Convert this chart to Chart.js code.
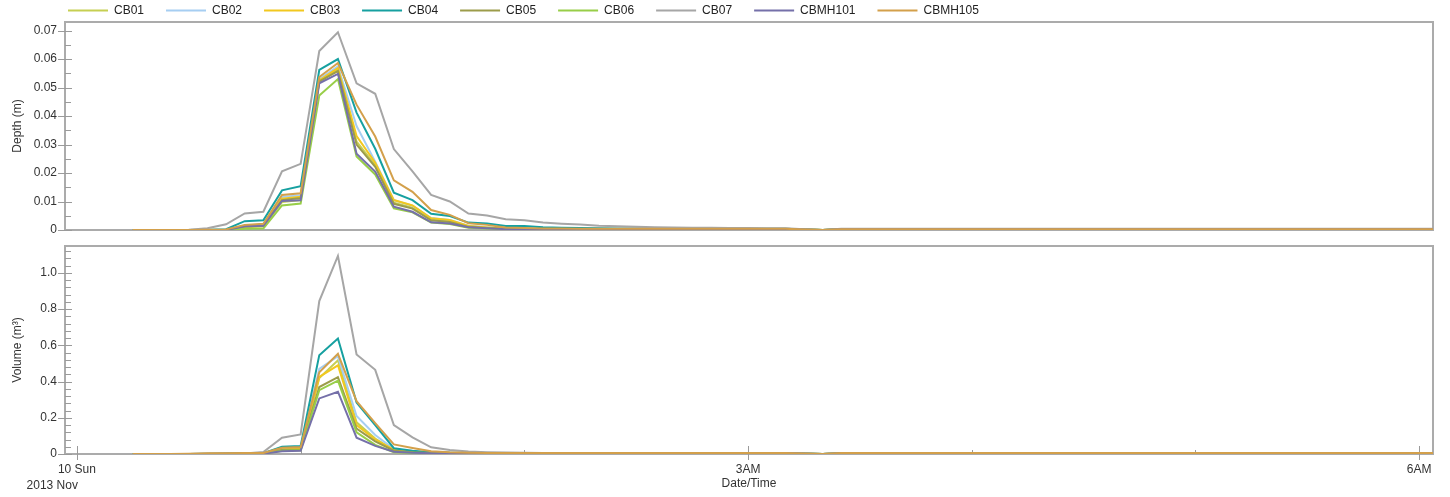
<!DOCTYPE html>
<html>
<head>
<meta charset="utf-8">
<script src="https://cdn.jsdelivr.net/npm/chart.js@4.4.1/dist/chart.umd.min.js"></script>
<style>
html,body{margin:0;padding:0;background:#fff;width:1450px;height:497px;overflow:hidden;}
#topChart{position:absolute;left:0;top:0;}
#botChart{position:absolute;left:0;top:238px;}
</style>
</head>
<body>
<canvas id="topChart" width="1450" height="238"></canvas>
<canvas id="botChart" width="1450" height="259"></canvas>
<script>
// ---- categories: minutes after 2013-11-10 00:00 ----
const minutes = [
 15,20,25,30,35,40,45,50,55,60,
 65,70,75,80,85,90,95,100,105,110,
 115,120,125,130,135,140,145,150,155,160,
 165,170,175,180,185,190,195,200,205,210,
 215,220,225,230,235,240,245,250,255,260,
 265,270,275,280,285,290,295,300,305,310,
 315,320,325,330,335,340,345,350,355,360,
 365];

const seriesNames = ['CB01','CB02','CB03','CB04','CB05','CB06','CB07','CBMH101','CBMH105'];
const seriesColors = ['#C6CF52','#A6CEF2','#F2C81F','#16A0A0','#9C9C4A','#98CE48','#A6A6A6','#7570A9','#D3A04B'];

// ---- depth (m) ----
const depthCB01 = [
 0,0,0,0,0,0,0.0010,0.0012,0.0098,0.0105,
 0.0520,0.0562,0.0310,0.0228,0.0096,0.0078,0.0036,0.0030,0.0012,0.0008,
 0.0004,0.0003,0.0003,0.0003,0.0003,0.0003,0.0003,0.0003,0.0003,0.0003,
 0.0003,0.0003,0.0003,0.0003,0.0003,0.0003,0.0002,0,0.0002,0.0002,
 0.0002,0.0002,0.0002,0.0002,0.0002,0.0002,0.0002,0.0002,0.0002,0.0002,
 0.0002,0.0002,0.0002,0.0002,0.0002,0.0002,0.0002,0.0002,0.0002,0.0002,
 0.0002,0.0002,0.0002,0.0002,0.0002,0.0002,0.0002,0.0002,0.0002,0.0002,
 0.0002];
const depthCB02 = [
 0,0,0,0,0,0.0001,0.0016,0.0019,0.0116,0.0122,
 0.0530,0.0574,0.0365,0.0240,0.0105,0.0085,0.0042,0.0035,0.0015,0.0010,
 0.0005,0.0004,0.0003,0.0003,0.0003,0.0003,0.0003,0.0003,0.0003,0.0003,
 0.0003,0.0003,0.0003,0.0003,0.0003,0.0003,0.0002,0,0.0003,0.0003,
 0.0003,0.0003,0.0003,0.0003,0.0003,0.0003,0.0003,0.0003,0.0003,0.0003,
 0.0003,0.0003,0.0003,0.0003,0.0003,0.0003,0.0003,0.0003,0.0003,0.0003,
 0.0003,0.0003,0.0003,0.0003,0.0003,0.0003,0.0003,0.0003,0.0003,0.0003,
 0.0003];
const depthCB03 = [
 0,0,0,0,0,0.0001,0.0014,0.0017,0.0110,0.0117,
 0.0525,0.0568,0.0330,0.0236,0.0105,0.0086,0.0041,0.0035,0.0014,0.0009,
 0.0005,0.0004,0.0003,0.0003,0.0003,0.0003,0.0003,0.0003,0.0003,0.0003,
 0.0003,0.0003,0.0003,0.0003,0.0003,0.0003,0.0002,0,0.0003,0.0003,
 0.0003,0.0003,0.0003,0.0003,0.0003,0.0003,0.0003,0.0003,0.0003,0.0003,
 0.0003,0.0003,0.0003,0.0003,0.0003,0.0003,0.0003,0.0003,0.0003,0.0003,
 0.0003,0.0003,0.0003,0.0003,0.0003,0.0003,0.0003,0.0003,0.0003,0.0003,
 0.0003];
const depthCB04 = [
 0,0,0,0,0.0001,0.0003,0.0031,0.0034,0.0139,0.0154,
 0.0562,0.0600,0.0412,0.0285,0.0131,0.0105,0.0057,0.0049,0.0026,0.0023,
 0.0014,0.0014,0.0010,0.0008,0.0007,0.0006,0.0005,0.0005,0.0005,0.0004,
 0.0004,0.0004,0.0004,0.0004,0.0004,0.0004,0.0002,0,0.0003,0.0003,
 0.0003,0.0003,0.0003,0.0003,0.0003,0.0003,0.0003,0.0003,0.0003,0.0003,
 0.0003,0.0003,0.0003,0.0003,0.0003,0.0003,0.0003,0.0003,0.0003,0.0003,
 0.0003,0.0003,0.0003,0.0003,0.0003,0.0003,0.0003,0.0003,0.0003,0.0003,
 0.0003];
const depthCB05 = [
 0,0,0,0,0,0,0.0012,0.0015,0.0105,0.0112,
 0.0522,0.0558,0.0300,0.0222,0.0092,0.0075,0.0034,0.0028,0.0011,0.0007,
 0.0004,0.0003,0.0003,0.0003,0.0003,0.0003,0.0003,0.0003,0.0003,0.0003,
 0.0003,0.0003,0.0003,0.0003,0.0003,0.0003,0.0002,0,0.0002,0.0002,
 0.0002,0.0002,0.0002,0.0002,0.0002,0.0002,0.0002,0.0002,0.0002,0.0002,
 0.0002,0.0002,0.0002,0.0002,0.0002,0.0002,0.0002,0.0002,0.0002,0.0002,
 0.0002,0.0002,0.0002,0.0002,0.0002,0.0002,0.0002,0.0002,0.0002,0.0002,
 0.0002];
const depthCB06 = [
 0,0,0,0,0,0,0.0004,0.0005,0.0086,0.0093,
 0.0472,0.0530,0.0258,0.0195,0.0076,0.0062,0.0026,0.0021,0.0008,0.0005,
 0.0003,0.0002,0.0002,0.0002,0.0002,0.0002,0.0002,0.0002,0.0002,0.0002,
 0.0002,0.0002,0.0002,0.0002,0.0002,0.0002,0.0001,0,0.0002,0.0002,
 0.0002,0.0002,0.0002,0.0002,0.0002,0.0002,0.0002,0.0002,0.0002,0.0002,
 0.0002,0.0002,0.0002,0.0002,0.0002,0.0002,0.0002,0.0002,0.0002,0.0002,
 0.0002,0.0002,0.0002,0.0002,0.0002,0.0002,0.0002,0.0002,0.0002,0.0002,
 0.0002];
const depthCB07 = [
 0,0,0,0.0001,0.0006,0.0020,0.0058,0.0064,0.0206,0.0232,
 0.0628,0.0694,0.0515,0.0478,0.0284,0.0206,0.0123,0.0100,0.0058,0.0051,
 0.0038,0.0034,0.0026,0.0022,0.0019,0.0015,0.0013,0.0011,0.0010,0.0009,
 0.0008,0.0008,0.0007,0.0007,0.0006,0.0006,0.0003,0,0.0004,0.0004,
 0.0004,0.0004,0.0004,0.0004,0.0004,0.0004,0.0004,0.0004,0.0004,0.0004,
 0.0004,0.0004,0.0004,0.0004,0.0004,0.0004,0.0004,0.0004,0.0004,0.0004,
 0.0004,0.0004,0.0004,0.0004,0.0004,0.0004,0.0004,0.0004,0.0004,0.0004,
 0.0004];
const depthCBMH101 = [
 0,0,0,0,0,0,0.0013,0.0015,0.0102,0.0104,
 0.0515,0.0548,0.0268,0.0205,0.0082,0.0064,0.0027,0.0023,0.0010,0.0006,
 0.0003,0.0003,0.0002,0.0002,0.0002,0.0002,0.0002,0.0002,0.0002,0.0002,
 0.0002,0.0002,0.0002,0.0002,0.0002,0.0002,0.0001,0,0.0002,0.0002,
 0.0002,0.0002,0.0002,0.0002,0.0002,0.0002,0.0002,0.0002,0.0002,0.0002,
 0.0002,0.0002,0.0002,0.0002,0.0002,0.0002,0.0002,0.0002,0.0002,0.0002,
 0.0002,0.0002,0.0002,0.0002,0.0002,0.0002,0.0002,0.0002,0.0002,0.0002,
 0.0002];
const depthCBMH105 = [
 0,0,0,0,0.0001,0.0002,0.0018,0.0022,0.0123,0.0129,
 0.0537,0.0586,0.0440,0.0328,0.0174,0.0134,0.0070,0.0053,0.0024,0.0018,
 0.0009,0.0007,0.0005,0.0005,0.0004,0.0004,0.0004,0.0004,0.0004,0.0004,
 0.0004,0.0004,0.0004,0.0004,0.0004,0.0004,0.0002,0,0.0003,0.0003,
 0.0003,0.0003,0.0003,0.0003,0.0003,0.0003,0.0003,0.0003,0.0003,0.0003,
 0.0003,0.0003,0.0003,0.0003,0.0003,0.0003,0.0003,0.0003,0.0003,0.0003,
 0.0003,0.0003,0.0003,0.0003,0.0003,0.0003,0.0003,0.0003,0.0003,0.0003,
 0.0003];

// ---- volume (m3) ----
const volumeCB01 = [
 0,0,0,0,0,0.001,0.002,0.003,0.024,0.027,
 0.420,0.518,0.175,0.085,0.022,0.011,0.006,0.005,0.004,0.004,
 0.004,0.004,0.004,0.004,0.004,0.004,0.004,0.004,0.004,0.004,
 0.004,0.004,0.004,0.004,0.004,0.004,0.002,0,0.003,0.003,
 0.003,0.003,0.003,0.003,0.003,0.003,0.003,0.003,0.003,0.003,
 0.003,0.003,0.003,0.003,0.003,0.003,0.003,0.003,0.003,0.003,
 0.003,0.003,0.003,0.003,0.003,0.003,0.003,0.003,0.003,0.003,
 0.003];
const volumeCB02 = [
 0,0,0,0,0.001,0.002,0.003,0.004,0.030,0.033,
 0.470,0.540,0.210,0.105,0.028,0.013,0.007,0.005,0.005,0.004,
 0.004,0.004,0.004,0.004,0.004,0.004,0.004,0.004,0.004,0.004,
 0.004,0.004,0.004,0.004,0.004,0.004,0.002,0,0.003,0.003,
 0.003,0.003,0.003,0.003,0.003,0.003,0.003,0.003,0.003,0.003,
 0.003,0.003,0.003,0.003,0.003,0.003,0.003,0.003,0.003,0.003,
 0.003,0.003,0.003,0.003,0.003,0.003,0.003,0.003,0.003,0.003,
 0.003];
const volumeCB03 = [
 0,0,0,0,0,0.001,0.002,0.003,0.026,0.029,
 0.426,0.490,0.160,0.080,0.024,0.011,0.006,0.005,0.004,0.004,
 0.004,0.004,0.004,0.004,0.004,0.004,0.004,0.004,0.004,0.004,
 0.004,0.004,0.004,0.004,0.004,0.004,0.002,0,0.003,0.003,
 0.003,0.003,0.003,0.003,0.003,0.003,0.003,0.003,0.003,0.003,
 0.003,0.003,0.003,0.003,0.003,0.003,0.003,0.003,0.003,0.003,
 0.003,0.003,0.003,0.003,0.003,0.003,0.003,0.003,0.003,0.003,
 0.003];
const volumeCB04 = [
 0,0,0,0,0.001,0.002,0.003,0.005,0.040,0.044,
 0.546,0.638,0.285,0.160,0.032,0.018,0.010,0.007,0.006,0.005,
 0.005,0.005,0.005,0.005,0.005,0.005,0.005,0.005,0.005,0.005,
 0.005,0.005,0.005,0.005,0.005,0.005,0.003,0,0.004,0.004,
 0.004,0.004,0.004,0.004,0.004,0.004,0.004,0.004,0.004,0.004,
 0.004,0.004,0.004,0.004,0.004,0.004,0.004,0.004,0.004,0.004,
 0.004,0.004,0.004,0.004,0.004,0.004,0.004,0.004,0.004,0.004,
 0.004];
const volumeCB05 = [
 0,0,0,0,0,0.001,0.002,0.003,0.022,0.025,
 0.370,0.425,0.140,0.070,0.018,0.009,0.005,0.004,0.004,0.003,
 0.003,0.003,0.003,0.003,0.003,0.003,0.003,0.003,0.003,0.003,
 0.003,0.003,0.003,0.003,0.003,0.003,0.002,0,0.003,0.003,
 0.003,0.003,0.003,0.003,0.003,0.003,0.003,0.003,0.003,0.003,
 0.003,0.003,0.003,0.003,0.003,0.003,0.003,0.003,0.003,0.003,
 0.003,0.003,0.003,0.003,0.003,0.003,0.003,0.003,0.003,0.003,
 0.003];
const volumeCB06 = [
 0,0,0,0,0,0,0.001,0.002,0.018,0.021,
 0.353,0.405,0.120,0.050,0.010,0.006,0.004,0.003,0.003,0.003,
 0.003,0.003,0.003,0.003,0.003,0.003,0.003,0.003,0.003,0.003,
 0.003,0.003,0.003,0.003,0.003,0.003,0.002,0,0.003,0.003,
 0.003,0.003,0.003,0.003,0.003,0.003,0.003,0.003,0.003,0.003,
 0.003,0.003,0.003,0.003,0.003,0.003,0.003,0.003,0.003,0.003,
 0.003,0.003,0.003,0.003,0.003,0.003,0.003,0.003,0.003,0.003,
 0.003];
const volumeCB07 = [
 0,0,0,0,0.001,0.002,0.003,0.011,0.090,0.108,
 0.845,1.094,0.550,0.465,0.160,0.092,0.037,0.022,0.014,0.010,
 0.008,0.007,0.006,0.006,0.006,0.005,0.005,0.005,0.005,0.005,
 0.005,0.005,0.005,0.005,0.005,0.005,0.003,0,0.004,0.004,
 0.004,0.004,0.004,0.004,0.004,0.004,0.004,0.004,0.004,0.004,
 0.004,0.004,0.004,0.004,0.004,0.004,0.004,0.004,0.004,0.004,
 0.004,0.004,0.004,0.004,0.004,0.004,0.004,0.004,0.004,0.004,
 0.004];
const volumeCBMH101 = [
 0,0,0,0,0,0.001,0.001,0.002,0.015,0.018,
 0.307,0.344,0.090,0.045,0.013,0.007,0.004,0.003,0.003,0.003,
 0.003,0.003,0.003,0.003,0.003,0.003,0.003,0.003,0.003,0.003,
 0.003,0.003,0.003,0.003,0.003,0.003,0.002,0,0.003,0.003,
 0.003,0.003,0.003,0.003,0.003,0.003,0.003,0.003,0.003,0.003,
 0.003,0.003,0.003,0.003,0.003,0.003,0.003,0.003,0.003,0.003,
 0.003,0.003,0.003,0.003,0.003,0.003,0.003,0.003,0.003,0.003,
 0.003];
const volumeCBMH105 = [
 0,0,0,0.002,0.004,0.004,0.005,0.006,0.035,0.038,
 0.452,0.553,0.292,0.170,0.053,0.033,0.015,0.009,0.007,0.006,
 0.006,0.006,0.006,0.006,0.006,0.006,0.006,0.006,0.006,0.006,
 0.006,0.006,0.006,0.006,0.006,0.006,0.003,0,0.005,0.005,
 0.005,0.005,0.005,0.005,0.005,0.005,0.005,0.005,0.005,0.005,
 0.005,0.005,0.005,0.005,0.005,0.005,0.005,0.005,0.005,0.005,
 0.005,0.005,0.005,0.005,0.005,0.005,0.005,0.005,0.005,0.005,
 0.005];

// ---- ticks ----
const depthTicks = [0,0.01,0.02,0.03,0.04,0.05,0.06,0.07];
const depthTickLabels = ['0','0.01','0.02','0.03','0.04','0.05','0.06','0.07'];
const depthMinorTicks = [0.005,0.015,0.025,0.035,0.045,0.055,0.065];
const volumeTicks = [0,0.2,0.4,0.6,0.8,1.0];
const volumeTickLabels = ['0','0.2','0.4','0.6','0.8','1.0'];
const volumeMinorTicks = [0.04,0.08,0.12,0.16,0.24,0.28,0.32,0.36,0.44,0.48,0.52,0.56,0.64,0.68,0.72,0.76,0.84,0.88,0.92,0.96,1.04,1.08,1.12];
const timeTicks = [0,180,360];
const timeTickLabels = ['10 Sun','3AM','6AM'];
const timeMinorTicks = [60,120,240,300];
const dateSubLabel = '2013 Nov';

const depthSeries = [depthCB01,depthCB02,depthCB03,depthCB04,depthCB05,depthCB06,depthCB07,depthCBMH101,depthCBMH105];
const volumeSeries = [volumeCB01,volumeCB02,volumeCB03,volumeCB04,volumeCB05,volumeCB06,volumeCB07,volumeCBMH101,volumeCBMH105];

const FONT = '"Liberation Sans", Arial, sans-serif';
Chart.defaults.font.family = FONT;
Chart.defaults.font.size = 12;
Chart.defaults.color = '#333';

function buildDatasets(series) {
  return series.map((arr, i) => ({
    label: seriesNames[i],
    data: minutes.map((m, k) => ({x: m, y: arr[k]})),
    borderColor: seriesColors[i],
    backgroundColor: seriesColors[i],
    pointBorderColor: seriesColors[i],
    pointBorderWidth: 2,
    borderWidth: 2,
    pointRadius: 0,
    pointHoverRadius: 0,
    tension: 0,
    fill: false,
    order: series.length - 1 - i
  }));
}

function frameAndTicks(yMajor, yMinor, xMajor, xMinor) {
  return {
    id: 'frameAndTicks',
    beforeDatasetsDraw(chart) {
      const {ctx, chartArea: a, scales} = chart;
      ctx.save();
      ctx.strokeStyle = '#ABABAB';
      ctx.lineWidth = 2;
      ctx.strokeRect(a.left, a.top, a.right - a.left, a.bottom - a.top);
      ctx.strokeStyle = '#9A9A9A';
      ctx.lineWidth = 1;
      const ln = (x1, y1, x2, y2) => { ctx.beginPath(); ctx.moveTo(x1, y1); ctx.lineTo(x2, y2); ctx.stroke(); };
      yMajor.forEach(v => { const p = Math.round(scales.y.getPixelForValue(v)) + 0.5; ln(a.left - 7, p, a.left + 7, p); });
      yMinor.forEach(v => { const p = Math.round(scales.y.getPixelForValue(v)) + 0.5; ln(a.left, p, a.left + 6, p); });
      xMajor.forEach(v => { const p = Math.round(scales.x.getPixelForValue(v)) + 0.5; ln(p, a.bottom - 8, p, a.bottom + 6); });
      xMinor.forEach(v => { const p = Math.round(scales.x.getPixelForValue(v)) + 0.5; ln(p, a.bottom - 4, p, a.bottom); });
      ctx.restore();
    }
  };
}

const legendTweak = {
  id: 'legendTweak',
  afterInit(chart) {
    const lg = chart.legend;
    if (!lg) return;
    const origFit = lg.fit;
    lg.fit = function () { origFit.call(this); this.height = 22; };
  },
  beforeDraw(chart) {
    const lg = chart.legend;
    if (!lg) return;
    const pad = lg.options.labels.padding;
    const w = lg.right - lg.left;
    lg.left = 68 - pad;
    lg.right = lg.left + w;
    lg.top = 4.5 - pad;
  }
};

const subLabel = {
  id: 'subLabel',
  afterDraw(chart) {
    const {ctx} = chart;
    const x = chart.scales.x.getPixelForValue(timeTicks[0]);
    ctx.save();
    ctx.font = '12px ' + FONT;
    ctx.fillStyle = '#333';
    ctx.textAlign = 'right';
    ctx.textBaseline = 'middle';
    ctx.fillText(dateSubLabel, x + 1, 247.5);
    ctx.restore();
  }
};

const xMin = -3.2, xMax = 363.7;

new Chart(document.getElementById('topChart'), {
  type: 'line',
  data: { datasets: buildDatasets(depthSeries) },
  options: {
    responsive: false, animation: false, devicePixelRatio: 1, events: [],
    layout: { padding: { left: 0, right: 17, top: 0, bottom: 8 } },
    plugins: {
      tooltip: { enabled: false },
      legend: {
        display: true, position: 'top', align: 'start',
        labels: {
          usePointStyle: true, pointStyle: 'line', pointStyleWidth: 40,
          padding: 22, color: '#222', font: { size: 12 },
          sort: (a, b) => a.datasetIndex - b.datasetIndex
        }
      }
    },
    scales: {
      x: { type: 'linear', min: xMin, max: xMax, display: false },
      y: {
        type: 'linear', min: 0, max: 0.073, position: 'left',
        grid: { display: false, drawTicks: false }, border: { display: false },
        afterBuildTicks: s => { s.ticks = depthTicks.map(v => ({ value: v })); },
        ticks: { padding: 8, autoSkip: false, color: '#333', callback: (v, i) => depthTickLabels[i] },
        title: { display: true, text: 'Depth (m)', color: '#333', padding: { top: 10, bottom: 0 } },
        afterFit: s => { s.width = 65; s.paddingTop = 0; s.paddingBottom = 0; }
      }
    }
  },
  plugins: [legendTweak, frameAndTicks(depthTicks, depthMinorTicks, [], [])]
});

new Chart(document.getElementById('botChart'), {
  type: 'line',
  data: { datasets: buildDatasets(volumeSeries) },
  options: {
    responsive: false, animation: false, devicePixelRatio: 1, events: [],
    layout: { padding: { left: 0, right: 17, top: 8, bottom: 0 } },
    plugins: { tooltip: { enabled: false }, legend: { display: false } },
    scales: {
      x: {
        type: 'linear', min: xMin, max: xMax, position: 'bottom',
        grid: { display: false, drawTicks: false }, border: { display: false },
        afterBuildTicks: s => { s.ticks = timeTicks.map(v => ({ value: v })); },
        ticks: { autoSkip: false, maxRotation: 0, padding: 8, color: '#333', callback: (v, i) => timeTickLabels[i] },
        title: { display: true, text: 'Date/Time', color: '#333', padding: { top: 6, bottom: 6 } },
        afterFit: s => { s.height = 43; s.paddingLeft = 0; s.paddingRight = 0; }
      },
      y: {
        type: 'linear', min: 0, max: 1.149, position: 'left',
        grid: { display: false, drawTicks: false }, border: { display: false },
        afterBuildTicks: s => { s.ticks = volumeTicks.map(v => ({ value: v })); },
        ticks: { padding: 8, autoSkip: false, color: '#333', callback: (v, i) => volumeTickLabels[i] },
        title: { display: true, text: 'Volume (m³)', color: '#333', padding: { top: 10, bottom: 0 } },
        afterFit: s => { s.width = 65; s.paddingTop = 0; s.paddingBottom = 0; }
      }
    }
  },
  plugins: [subLabel, frameAndTicks(volumeTicks, volumeMinorTicks, timeTicks, timeMinorTicks)]
});
</script>
</body>
</html>
